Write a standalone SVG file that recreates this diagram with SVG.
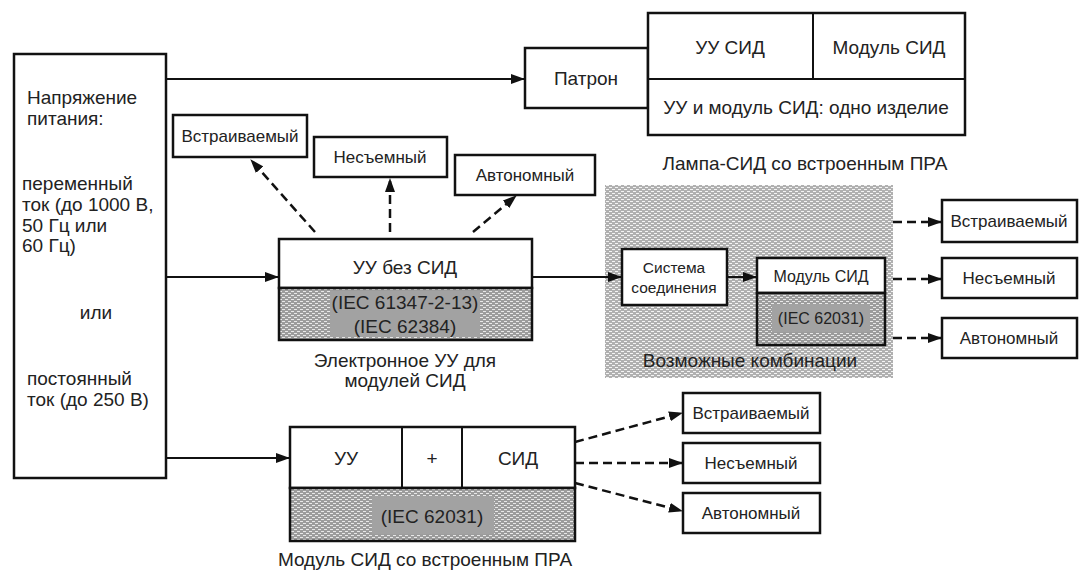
<svg xmlns="http://www.w3.org/2000/svg" width="1079" height="571" viewBox="0 0 1079 571">
<defs>
<pattern id="hatchL" width="6" height="4" patternUnits="userSpaceOnUse"><rect width="6" height="4" fill="#b0b0b0"/><path d="M0 1.5h3M3 3.5h3" stroke="#f4f4f4" stroke-width="1"/></pattern>
<pattern id="hatchD" width="6" height="4" patternUnits="userSpaceOnUse"><rect width="6" height="4" fill="#9c9c9c"/><path d="M0 1.5h3M3 3.5h3" stroke="#e8e8e8" stroke-width="1"/></pattern>
<marker id="ah" markerWidth="14" markerHeight="10" refX="13" refY="5" orient="auto" markerUnits="userSpaceOnUse"><path d="M0 0L14 5L0 10z" fill="#111"/></marker>
</defs>
<style>
.box{fill:#fff;stroke:#111;stroke-width:2.5}
.hl{fill:url(#hatchL)}
.hd{fill:url(#hatchD);stroke:#111;stroke-width:2.5}
.ln{fill:none;stroke:#111;stroke-width:2}
.c{stroke:#111;stroke-width:2;fill:none;marker-end:url(#ah)}
.d{stroke:#111;stroke-width:2.5;fill:none;stroke-dasharray:9 5;marker-end:url(#ah)}
.core{fill:#a2a2a2}
text{font-family:"Liberation Sans",Arial,sans-serif;fill:#222;font-size:19px}
.m{text-anchor:middle}
.s{font-size:17px}
.xs{font-size:15.5px}
.ms{font-size:16px}
</style>

<g id="supply">
<rect class="box" x="14" y="54" width="152" height="424"/>
<text x="27" y="104">Напряжение</text>
<text x="27" y="125">питания:</text>
<text x="22" y="190">переменный</text>
<text x="22" y="211">ток (до 1000 В,</text>
<text x="22" y="232">50 Гц или</text>
<text x="22" y="252">60 Гц)</text>
<text x="96" y="319" class="m">или</text>
<text x="27" y="385">постоянный</text>
<text x="27" y="406">ток (до 250 В)</text>
</g>

<g id="patron">
<rect class="box" x="525" y="48" width="123" height="60"/>
<text x="586" y="85" class="m">Патрон</text>
</g>

<g id="lamp">
<rect class="box" x="648" y="13" width="317" height="122"/>
<path class="ln" d="M648 79H965M813 13V79"/>
<text x="730" y="54" class="m">УУ СИД</text>
<text x="889" y="54" class="m">Модуль СИД</text>
<text x="806" y="114" class="m">УУ и модуль СИД: одно изделие</text>
<text x="805" y="170" class="m">Лампа-СИД со встроенным ПРА</text>
</g>

<g id="top-embedded"><rect class="box" x="173" y="115" width="134" height="42"/><text x="240" y="142" class="m s">Встраиваемый</text></g>
<g id="top-fixed"><rect class="box" x="314" y="137" width="133" height="40"/><text x="380" y="163" class="m s">Несъемный</text></g>
<g id="top-independent"><rect class="box" x="455" y="155" width="140" height="40"/><text x="525" y="181" class="m s">Автономный</text></g>

<g id="controlgear">
<rect class="box" x="279" y="239" width="253" height="49"/>
<rect class="hd" x="279" y="288" width="253" height="52"/>
<rect class="core" x="330" y="291" width="150" height="46"/>
<text x="405" y="274" class="m">УУ без СИД</text>
<text x="405" y="309" class="m">(IEC 61347-2-13)</text>
<text x="405" y="333" class="m">(IEC 62384)</text>
<text x="405" y="367" class="m">Электронное УУ для</text>
<text x="405" y="387" class="m">модулей СИД</text>
</g>

<g id="combinations">
<rect class="hl" x="605" y="185" width="288" height="193"/>
<text x="750" y="367" class="m">Возможные комбинации</text>
</g>

<g id="connection-system">
<rect class="box" x="622" y="249" width="105" height="56"/>
<text x="674" y="273" class="m xs">Система</text>
<text x="674" y="293" class="m xs">соединения</text>
</g>

<g id="led-module">
<rect class="box" x="757" y="258" width="128" height="35"/>
<rect class="hd" x="757" y="293" width="128" height="52"/>
<rect class="core" x="772" y="304" width="98" height="28"/>
<text x="821" y="282" class="m ms">Модуль СИД</text>
<text x="821" y="324" class="m ms">(IEC 62031)</text>
</g>

<g id="r-embedded"><rect class="box" x="942" y="200" width="135" height="42"/><text x="1009" y="227" class="m s">Встраиваемый</text></g>
<g id="r-fixed"><rect class="box" x="942" y="258" width="135" height="40"/><text x="1009" y="284" class="m s">Несъемный</text></g>
<g id="r-independent"><rect class="box" x="942" y="318" width="135" height="40"/><text x="1009" y="344" class="m s">Автономный</text></g>

<g id="integral-module">
<rect class="box" x="290" y="427" width="285" height="61"/>
<path class="ln" d="M402 427V488M462 427V488"/>
<rect class="hd" x="290" y="488" width="285" height="53"/>
<rect class="core" x="372" y="496" width="122" height="38"/>
<text x="346" y="465" class="m">УУ</text>
<text x="432" y="465" class="m">+</text>
<text x="518" y="465" class="m">СИД</text>
<text x="432" y="523" class="m">(IEC 62031)</text>
<text x="425" y="566" class="m">Модуль СИД со встроенным ПРА</text>
</g>

<g id="b-embedded"><rect class="box" x="683" y="393" width="137" height="40"/><text x="751" y="419" class="m s">Встраиваемый</text></g>
<g id="b-fixed"><rect class="box" x="683" y="443" width="137" height="40"/><text x="751" y="469" class="m s">Несъемный</text></g>
<g id="b-independent"><rect class="box" x="683" y="493" width="137" height="40"/><text x="751" y="519" class="m s">Автономный</text></g>

<g id="connectors">
<path class="c" d="M166 79H524"/>
<path class="c" d="M166 277H278"/>
<path class="c" d="M166 458H289"/>
<path class="c" d="M532 277H621"/>
<path class="c" d="M727 277H756"/>
<path class="d" d="M315 232L251 160"/>
<path class="d" d="M390 232V179"/>
<path class="d" d="M473 232L516 196"/>
<path class="d" d="M893 222H941"/>
<path class="d" d="M893 279H941"/>
<path class="d" d="M893 338H941"/>
<path class="d" d="M575 442L682 413"/>
<path class="d" d="M575 463H682"/>
<path class="d" d="M575 483L682 511"/>
</g>
</svg>
